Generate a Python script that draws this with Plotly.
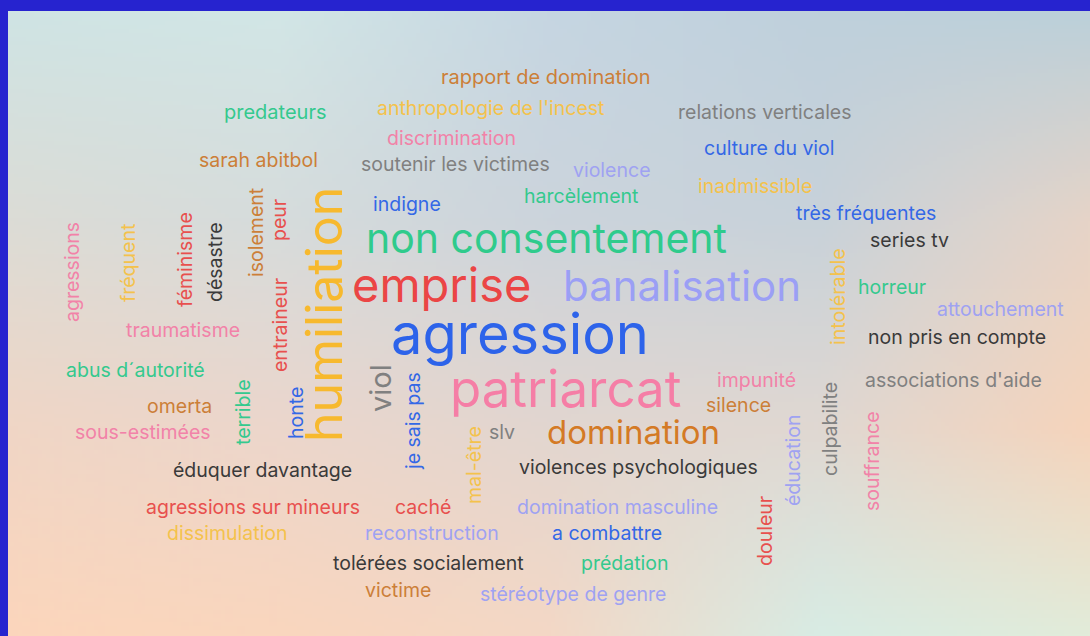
import base64, struct, zlib
import numpy as np
import plotly.graph_objects as go

# ---------------- data ----------------
words = [
    "rapport de domination", "predateurs", "anthropologie de l'incest", "relations verticales",
    "discrimination", "sarah abitbol", "soutenir les victimes", "violence", "culture du viol",
    "inadmissible", "indigne", "harcèlement", "très fréquentes", "series tv",
    "non consentement", "emprise", "banalisation", "agression", "horreur", "attouchement",
    "non pris en compte", "patriarcat", "domination", "impunité", "silence",
    "associations d'aide", "slv", "violences psychologiques", "éduquer davantage",
    "agressions sur mineurs", "caché", "domination masculine", "dissimulation",
    "reconstruction", "a combattre", "tolérées socialement", "prédation", "victime",
    "stéréotype de genre", "traumatisme", "abus d´autorité", "omerta", "sous-estimées",
    "agressions", "fréquent", "féminisme", "désastre", "isolement", "peur", "entraineur",
    "humiliation", "terrible", "honte", "viol", "je sais pas", "mal-être", "intolérable",
    "culpabilite", "éducation", "douleur", "souffrance",
]
weights = [
    20, 20, 19.5, 19.5,
    19.5, 19.5, 19.5, 19.5, 19.5,
    19.5, 19.5, 19.5, 19.5, 19.5,
    41, 47, 42, 56, 19.5, 19.5,
    19.5, 51, 33, 19.5, 19.5,
    19.5, 19.5, 19.5, 19.5,
    19.5, 19.5, 19.5, 19.5,
    19.5, 19.5, 19.5, 19.5, 19.5,
    19.5, 19.5, 19.5, 19.5, 19.5,
    19.5, 19.5, 19.5, 19.5, 19.5, 19.5, 19.5,
    50, 19.5, 19.5, 29, 19.5, 19.5, 19.5,
    19.5, 19.5, 19.5, 19.5,
]
word_x = [
    546, 275, 490, 765,
    451, 258, 455, 612, 769,
    755, 407, 581, 866, 909,
    546, 441, 682, 520, 892, 1000,
    957, 565, 633, 756, 738,
    953, 502, 638, 262,
    253, 423, 617, 227,
    432, 607, 428, 625, 398,
    573, 183, 135, 179, 143,
    72, 128, 185, 215, 256, 279, 280,
    324, 243, 296, 380, 413, 474, 838,
    830, 793, 765, 872,
]
word_y = [
    77, 112, 108, 112,
    138, 160, 164, 170, 148,
    186, 204, 196, 213, 240,
    238, 284, 285, 334, 287, 309,
    337, 388, 432, 380, 405,
    380, 432, 467, 470,
    507, 507, 507, 533,
    533, 533, 563, 563, 590,
    594, 330, 370, 406, 432,
    272, 263, 260, 262, 233, 220, 325,
    315, 412, 413, 388, 421, 465, 297,
    429, 461, 531, 461,
]
vertical = [0] * 43 + [1] * 18

GREEN, BLUE, RED, PINK = "#34c98e", "#3468e6", "#e8504e", "#f282a8"
YELLOW, ORANGE, LAV, GRAY, DARK = "#f4c24c", "#cc7f38", "#9fa2f2", "#808080", "#3a3a3a"
word_color = [
    ORANGE, GREEN, YELLOW, GRAY,
    PINK, ORANGE, GRAY, LAV, BLUE,
    YELLOW, BLUE, GREEN, BLUE, DARK,
    "#2fcb8c", "#eb4545", "#9b9ff5", "#2d63ea", GREEN, LAV,
    DARK, "#f57ea6", "#d47a25", PINK, ORANGE,
    GRAY, GRAY, DARK, DARK,
    RED, RED, LAV, YELLOW,
    LAV, BLUE, DARK, GREEN, ORANGE,
    LAV, PINK, GREEN, ORANGE, PINK,
    PINK, YELLOW, RED, DARK, ORANGE, RED, RED,
    "#f7b92e", GREEN, BLUE, GRAY, BLUE, YELLOW, YELLOW,
    GRAY, LAV, RED, PINK,
]

# ---------------- background gradient ----------------
grid_hex = [
    ["#cfe4e4", "#d2e6e6", "#c6d6e2", "#bfd0dc", "#bcd0da"],
    ["#dcdcd6", "#d6dcdc", "#ccd4dc", "#c8d2da", "#e6d4c8"],
    ["#f0d6c6", "#ecd6cc", "#e2d6d0", "#e0d8d2", "#f6d4bc"],
    ["#fcd6bc", "#fad6be", "#f4d8c6", "#d8ece4", "#e2ecda"],
]
grid = np.array([[[int(h[i:i + 2], 16) for i in (1, 3, 5)] for h in row] for row in grid_hex], float)
W, H = 272, 156
gy = np.linspace(0, grid.shape[0] - 1, H)
gx = np.linspace(0, grid.shape[1] - 1, W)
y0 = np.clip(np.floor(gy).astype(int), 0, grid.shape[0] - 2)
x0 = np.clip(np.floor(gx).astype(int), 0, grid.shape[1] - 2)
fy = (gy - y0)[:, None, None]
fx = (gx - x0)[None, :, None]
a = grid[y0][:, x0]
b = grid[y0][:, x0 + 1]
c = grid[y0 + 1][:, x0]
d = grid[y0 + 1][:, x0 + 1]
img = (a * (1 - fx) * (1 - fy) + b * fx * (1 - fy) + c * (1 - fx) * fy + d * fx * fy)
img = np.clip(img, 0, 255).astype(np.uint8)


def png_uri(arr):
    h, w, _ = arr.shape
    raw = b"".join(b"\x00" + arr[r].tobytes() for r in range(h))

    def chunk(tag, data):
        return struct.pack(">I", len(data)) + tag + data + struct.pack(">I", zlib.crc32(tag + data) & 0xffffffff)

    png = (b"\x89PNG\r\n\x1a\n" + chunk(b"IHDR", struct.pack(">IIBBBBB", w, h, 8, 2, 0, 0, 0))
           + chunk(b"IDAT", zlib.compress(raw, 9)) + chunk(b"IEND", b""))
    return "data:image/png;base64," + base64.b64encode(png).decode()


FIG_W, FIG_H = 1090, 636
LEFT, TOP = 8, 11     # blue frame on the left and top edges

fig = go.Figure()
fig.add_trace(go.Scatter(x=[0, FIG_W], y=[0, FIG_H], mode="markers",
                         marker=dict(opacity=0), hoverinfo="skip", showlegend=False))

for w, xx, yy, s, v, col in zip(words, word_x, word_y, weights, vertical, word_color):
    fig.add_annotation(x=xx, y=yy, xref="x", yref="y", text=w, showarrow=False,
                       textangle=-90 if v else 0, xanchor="center", yanchor="middle",
                       font=dict(family="Inter, Noto Sans, sans-serif", size=s, color=col))

fig.add_layout_image(dict(source=png_uri(img), xref="paper", yref="paper",
                          x=LEFT / FIG_W, y=1 - TOP / FIG_H,
                          sizex=(FIG_W - LEFT) / FIG_W, sizey=(FIG_H - TOP) / FIG_H,
                          xanchor="left", yanchor="top", sizing="stretch", layer="below"))

fig.update_layout(
    width=FIG_W, height=FIG_H, margin=dict(l=0, r=0, t=0, b=0),
    paper_bgcolor="#2623cf", plot_bgcolor="rgba(0,0,0,0)",
    xaxis=dict(range=[0, FIG_W], visible=False, fixedrange=True),
    yaxis=dict(range=[FIG_H, 0], visible=False, fixedrange=True),
    showlegend=False, hovermode=False,
)
fig.write_html("out.html", config={"displayModeBar": False, "staticPlot": True},
               post_script="document.body.style.margin='0px';document.body.style.background='#2623cf';")
